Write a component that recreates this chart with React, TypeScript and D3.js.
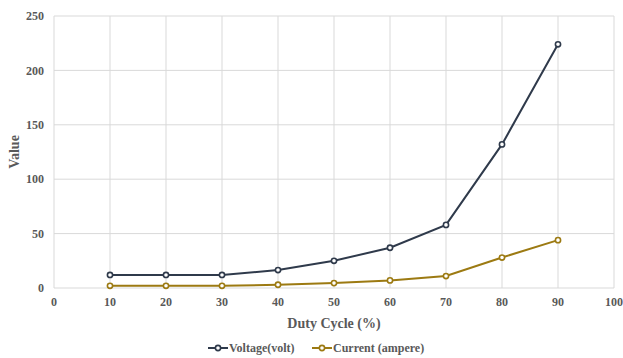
import { useEffect, useRef } from 'react';
import * as d3 from 'd3';

// Duty cycle sweep
const dutyCycle = [10, 20, 30, 40, 50, 60, 70, 80, 90];
const voltage = [12, 12, 12, 16.5, 25, 37, 58, 132, 224];
const current = [2, 2, 2, 3, 4.5, 7, 11, 28, 44];
const xTicks = [0, 10, 20, 30, 40, 50, 60, 70, 80, 90, 100];
const yTicks = [0, 50, 100, 150, 200, 250];

const seriesNames = ['Voltage(volt)', 'Current (ampere)'];
const seriesColors = ['#2f3a4b', '#9c7a12'];

const WIDTH = 623;
const HEIGHT = 358;
const MARGIN = { top: 16, right: 9, bottom: 70, left: 54 };
const FONT = '"Liberation Serif", "Times New Roman", serif';
const TEXT_COLOR = '#595959';

export default function App() {
  const svgRef = useRef<SVGSVGElement>(null);

  useEffect(() => {
    if (!svgRef.current) return;
    const svg = d3.select(svgRef.current);
    svg.selectAll('*').remove();

    const innerW = WIDTH - MARGIN.left - MARGIN.right;
    const innerH = HEIGHT - MARGIN.top - MARGIN.bottom;

    const x = d3.scaleLinear().domain([0, 100]).range([0, innerW]);
    const y = d3.scaleLinear().domain([0, 250]).range([innerH, 0]);

    const g = svg.append('g').attr('transform', `translate(${MARGIN.left},${MARGIN.top})`);

    // Gridlines
    g.selectAll('.vgrid')
      .data(xTicks)
      .enter()
      .append('line')
      .attr('x1', (d: number) => x(d))
      .attr('x2', (d: number) => x(d))
      .attr('y1', 0)
      .attr('y2', innerH)
      .attr('stroke', '#d9d9d9')
      .attr('stroke-width', 1);
    g.selectAll('.hgrid')
      .data(yTicks)
      .enter()
      .append('line')
      .attr('x1', 0)
      .attr('x2', innerW)
      .attr('y1', (d: number) => y(d))
      .attr('y2', (d: number) => y(d))
      .attr('stroke', '#d9d9d9')
      .attr('stroke-width', 1);

    // Axis tick labels
    g.selectAll('.xlab')
      .data(xTicks)
      .enter()
      .append('text')
      .attr('x', (d: number) => x(d))
      .attr('y', innerH + 18)
      .attr('text-anchor', 'middle')
      .attr('font-family', FONT)
      .attr('font-size', '12px')
      .attr('font-weight', 'bold')
      .attr('fill', TEXT_COLOR)
      .text((d: number) => `${d}`);
    g.selectAll('.ylab')
      .data(yTicks)
      .enter()
      .append('text')
      .attr('x', -10)
      .attr('y', (d: number) => y(d))
      .attr('dy', '0.35em')
      .attr('text-anchor', 'end')
      .attr('font-family', FONT)
      .attr('font-size', '12px')
      .attr('font-weight', 'bold')
      .attr('fill', TEXT_COLOR)
      .text((d: number) => `${d}`);

    // Axis titles
    g.append('text')
      .attr('x', innerW / 2)
      .attr('y', innerH + 40)
      .attr('text-anchor', 'middle')
      .attr('font-family', FONT)
      .attr('font-size', '14px')
      .attr('font-weight', 'bold')
      .attr('fill', TEXT_COLOR)
      .text('Duty Cycle (%)');
    svg
      .append('text')
      .attr('transform', `translate(19,${MARGIN.top + innerH / 2}) rotate(-90)`)
      .attr('text-anchor', 'middle')
      .attr('font-family', FONT)
      .attr('font-size', '14px')
      .attr('font-weight', 'bold')
      .attr('fill', TEXT_COLOR)
      .text('Value');

    // Series
    const seriesValues = [voltage, current];
    const line = d3
      .line<number>()
      .x((_d: number, i: number) => x(dutyCycle[i]))
      .y((d: number) => y(d));

    seriesValues.forEach((values, s) => {
      g.append('path')
        .datum(values)
        .attr('fill', 'none')
        .attr('stroke', seriesColors[s])
        .attr('stroke-width', 2)
        .attr('d', line);
      g.selectAll(`.pt${s}`)
        .data(values)
        .enter()
        .append('circle')
        .attr('cx', (_d: number, i: number) => x(dutyCycle[i]))
        .attr('cy', (d: number) => y(d))
        .attr('r', 2.6)
        .attr('fill', '#ffffff')
        .attr('stroke', seriesColors[s])
        .attr('stroke-width', 1.6);
    });

    // Legend
    const legendY = 348;
    const legendStarts = [208, 312];
    seriesNames.forEach((name, s) => {
      const lg = svg.append('g').attr('transform', `translate(${legendStarts[s]},${legendY})`);
      lg.append('line')
        .attr('x1', 0)
        .attr('x2', 20)
        .attr('y1', 0)
        .attr('y2', 0)
        .attr('stroke', seriesColors[s])
        .attr('stroke-width', 2);
      lg.append('circle')
        .attr('cx', 10)
        .attr('cy', 0)
        .attr('r', 2.6)
        .attr('fill', '#ffffff')
        .attr('stroke', seriesColors[s])
        .attr('stroke-width', 1.6);
      lg.append('text')
        .attr('x', 21)
        .attr('dy', '0.35em')
        .attr('font-family', FONT)
        .attr('font-size', '12px')
        .attr('font-weight', 'bold')
        .attr('fill', TEXT_COLOR)
        .text(name);
    });
  }, []);

  return (
    <svg
      ref={svgRef}
      width={WIDTH}
      height={HEIGHT}
      style={{ position: 'fixed', top: 0, left: 0, display: 'block', background: '#ffffff' }}
    />
  );
}
